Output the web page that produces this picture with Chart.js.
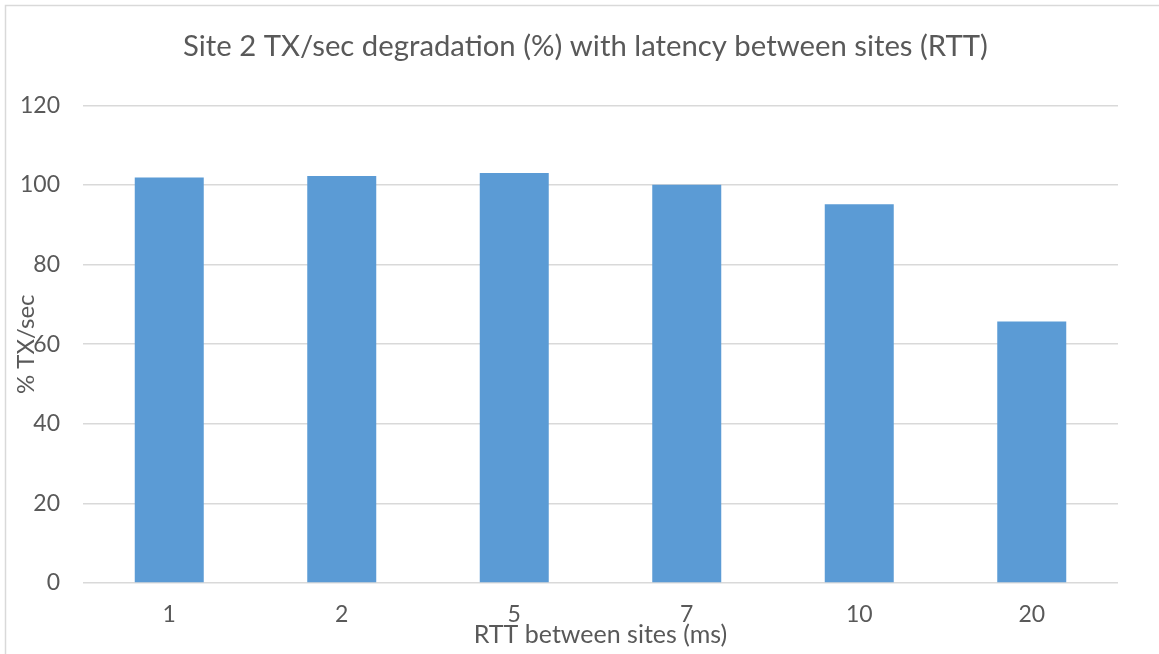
<!DOCTYPE html>
<html>
<head>
<meta charset="utf-8">
<script src="https://cdn.jsdelivr.net/npm/chart.js@4.4.1/dist/chart.umd.min.js"></script>
<style>
  html, body { margin: 0; padding: 0; background: #ffffff; }
  #wrap { width: 1159px; height: 654px; position: relative; }
</style>
</head>
<body>
<div id="wrap"><canvas id="chart" width="1159" height="654"></canvas></div>
<script>
// RTT between the two sites, in milliseconds
const rttLabels = ['1', '2', '5', '7', '10', '20'];
// Site 2 throughput as a percentage of the baseline TX/sec
const txPercent = [101.9, 102.3, 103.0, 100.1, 95.2, 65.7];
// Value axis range and step
const yMin = 0;
const yMax = 120;
const yStep = 20;

const textColor = '#595959';
const fontFamily = 'Lato, "Open Sans", "Liberation Sans", sans-serif';

// Thin frame drawn along the top and left edges of the canvas
const framePlugin = {
  id: 'frame',
  beforeDraw(chart) {
    const ctx = chart.ctx;
    ctx.save();
    ctx.strokeStyle = '#d9d9d9';
    ctx.lineWidth = 1.5;
    ctx.beginPath();
    ctx.moveTo(5.5, chart.height);
    ctx.lineTo(5.5, 5.5);
    ctx.lineTo(chart.width, 5.5);
    ctx.stroke();
    ctx.restore();
  }
};

new Chart(document.getElementById('chart'), {
  type: 'bar',
  data: {
    labels: rttLabels,
    datasets: [{
      label: '% TX/sec',
      data: txPercent,
      backgroundColor: '#5b9bd5',
      borderWidth: 0,
      categoryPercentage: 1.0,
      barPercentage: 0.4,
      yAxisID: 'y'
    }]
  },
  options: {
    responsive: false,
    animation: false,
    devicePixelRatio: 1,
    layout: { padding: { top: 0, left: 12, right: 0, bottom: 0 } },
    plugins: {
      legend: { display: false },
      tooltip: { enabled: false },
      title: {
        display: true,
        text: 'Site 2 TX/sec degradation (%) with latency between sites (RTT)',
        color: textColor,
        font: { family: fontFamily, size: 29.3, weight: 'normal', lineHeight: 1.2 },
        padding: { top: 29.4, bottom: 40.9 }
      }
    },
    scales: {
      x: {
        grid: { display: false, drawTicks: false },
        border: { display: false },
        ticks: {
          color: textColor,
          font: { family: fontFamily, size: 23 },
          padding: 18.2
        },
        title: {
          display: true,
          text: 'RTT between sites (ms)',
          color: textColor,
          font: { family: fontFamily, size: 25 },
          padding: { top: 0, bottom: 4 }
        },
        afterFit(scale) { scale.height = 71; }
      },
      y: {
        position: 'left',
        min: yMin,
        max: yMax,
        grid: { color: '#d9d9d9', lineWidth: 1.5, drawTicks: false },
        border: { display: false },
        ticks: {
          stepSize: yStep,
          color: textColor,
          font: { family: fontFamily, size: 23 },
          padding: 23
        },
        title: {
          display: true,
          text: '% TX/sec',
          color: textColor,
          font: { family: fontFamily, size: 24 },
          padding: { top: 0, bottom: 0 }
        },
        afterFit(scale) { scale.width = 71; }
      },
      // Empty margin on the right of the plot area
      yRight: {
        position: 'right',
        display: true,
        grid: { display: false, drawTicks: false },
        border: { display: false },
        ticks: { display: false },
        afterFit(scale) { scale.width = 41; }
      }
    }
  },
  plugins: [framePlugin]
});
</script>
</body>
</html>
